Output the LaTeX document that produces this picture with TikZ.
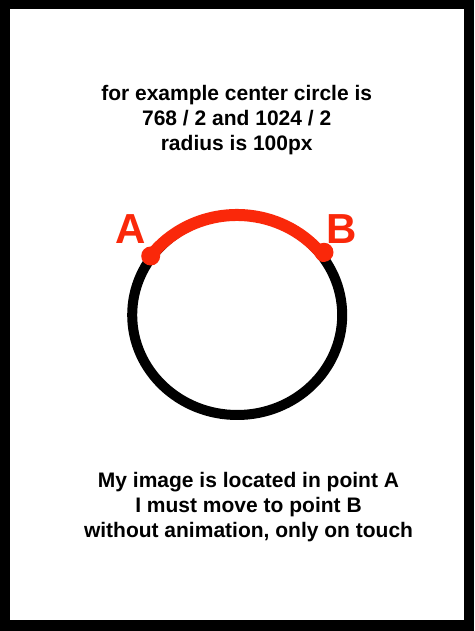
\documentclass[tikz,border=0pt]{standalone}
\usepackage{fontspec}
\setmainfont{Liberation Sans}
\usetikzlibrary{shapes.geometric}
\definecolor{arcred}{RGB}{250,40,10}
\begin{document}
\begin{tikzpicture}[x=1pt,y=1pt,
  caption/.style={font=\fontsize{21}{25}\selectfont\bfseries, align=center, inner sep=0pt},
  letter/.style={font=\fontsize{42}{42}\selectfont\bfseries, text=arcred, inner sep=0pt},
  dotmark/.style={circle, fill=arcred, minimum size=19pt, inner sep=0pt}]
\useasboundingbox (0,0) rectangle (474,631);
\fill[black] (0,0) rectangle (474,631);
\fill[white] (10,11) rectangle (464,622);
\node[caption] (top) at (236.7,511) {for example center circle is\\768 / 2 and 1024 / 2\\radius is 100px};
\node[draw=black, line width=10pt, ellipse, minimum width=210pt, minimum height=200pt, inner sep=0pt] (circ) at (237.2,316) {};
\coordinate (cA) at (150.7,375);
\coordinate (cB) at (324,378.7);
\draw[arcred, line width=12pt, line cap=round] (cA) arc[start angle=143, end angle=37, x radius=108, y radius=103];
\node[dotmark] (pA) at (cA) {};
\node[dotmark] (pB) at (cB) {};
\node[letter] (la) at (131,402) {A};
\node[letter] (lb) at (342,402) {B};
\node[caption] (bottom) at (248.5,124) {My image is located in point A\\I must move to point B\\without animation, only on touch};
\end{tikzpicture}
\end{document}
